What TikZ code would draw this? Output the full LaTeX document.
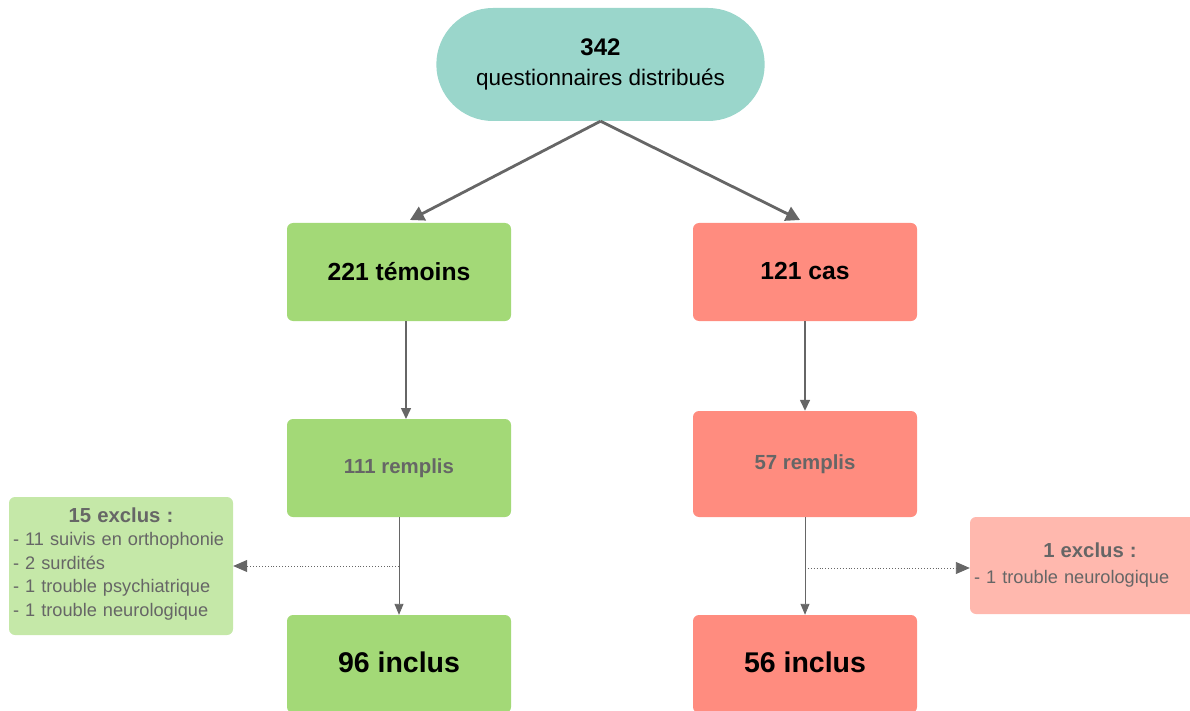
\documentclass[tikz,border=0pt]{standalone}
\usepackage{fontspec}
\setmainfont{Liberation Sans}
\usetikzlibrary{positioning}
\usetikzlibrary{shapes.geometric, shapes.misc, arrows.meta}
\definecolor{teal1}{HTML}{9AD6CB}
\definecolor{green1}{HTML}{A3D977}
\definecolor{green2}{HTML}{C5E8A8}
\definecolor{red1}{HTML}{FF8C7F}
\definecolor{red2}{HTML}{FFB8AE}
\definecolor{txtgray}{HTML}{666666}
\tikzstyle{box} = [rectangle, rounded corners=6pt, minimum width=224pt, minimum height=98pt, inner sep=0pt, align=center]
\tikzstyle{arrow} = [draw=txtgray, line width=1.5pt, -{Triangle[length=11pt,width=10pt]}]
\tikzstyle{thinarrow} = [draw=txtgray, line width=0.9pt, -{Triangle[length=11pt,width=9pt]}]
\tikzstyle{dotarrow} = [draw=txtgray, line width=0.9pt, dotted, -{Triangle[length=14pt,width=12pt]}]

\begin{document}
\begin{tikzpicture}[x=1pt,y=-1pt]
	\useasboundingbox (0,0) rectangle (1190,711);
	\node[fill=teal1, rounded rectangle, minimum width=335pt, minimum height=113pt, align=center,
		font=\fontsize{22.5}{30}\selectfont] (dist) at (600.5,64.5)
		{\bfseries\fontsize{24}{30}\selectfont 342\\questionnaires distribués};
	\node[box, fill=green1] (temoins) at (399,272) {\raisebox{2pt}{\fontsize{24.7}{28}\selectfont\bfseries 221 témoins}};
	\node[box, fill=red1] (cas) at (805,272) {\raisebox{2pt}{\fontsize{24.7}{28}\selectfont\bfseries 121 cas}};
	\node[box, fill=green1] (rempliL) at (399,468) {\color{txtgray}\fontsize{20.4}{24}\selectfont\bfseries 111 remplis};
	\node[box, fill=red1, minimum height=106pt] (rempliR) at (805,464) {\color{txtgray}\fontsize{20.4}{24}\selectfont\bfseries 57 remplis};
	\node[box, fill=green1] (inclusL) at (399,664) {\raisebox{4pt}{\fontsize{28.5}{32}\selectfont\bfseries 96 inclus}};
	\node[box, fill=red1] (inclusR) at (805,664) {\raisebox{4pt}{\fontsize{28.5}{32}\selectfont\bfseries 56 inclus}};
	\node[box, fill=green2, minimum height=138pt, text width=216pt, align=left, text=txtgray,
		font=\fontsize{18.2}{23.5}\selectfont] (exclusL) at (121,566)
		{\makebox[\linewidth]{\fontsize{20.3}{23.5}\selectfont\bfseries 15 exclus :}\\
		- 11 suivis en orthophonie\\- 2 surdités\\- 1 trouble psychiatrique\\- 1 trouble neurologique\\[-15.5pt]\mbox{}};
	\node[box, fill=red2, minimum width=240pt, minimum height=97pt, text width=232pt, align=left, text=txtgray,
		font=\fontsize{18.2}{26}\selectfont] (exclusR) at (1090,565.5)
		{\makebox[\linewidth]{\fontsize{20.3}{26}\selectfont\bfseries 1 exclus :}\\
		- 1 trouble neurologique\\[2pt]};
	% junctions for the exclusion arrows
	\coordinate (jL) at (399,566);
	\coordinate (jR) at (805,568);
	\draw[arrow, line width=2.8pt, -{Triangle[length=14pt,width=15pt]}] (dist.south) -- (410,220);
	\draw[arrow, line width=2.8pt, -{Triangle[length=14pt,width=15pt]}] (dist.south) -- (800,220);
	\draw[arrow] (406,321) -- (406,419);
	\draw[arrow] (cas.south) -- (rempliR.north);
	\draw[thinarrow] (rempliL.south) -- (inclusL.north);
	\draw[thinarrow] (rempliR.south) -- (inclusR.north);
	\draw[dotarrow] (jL) -- (exclusL.east |- jL);
	\draw[dotarrow] (jR) -- (exclusR.west |- jR);
\end{tikzpicture}
\end{document}
